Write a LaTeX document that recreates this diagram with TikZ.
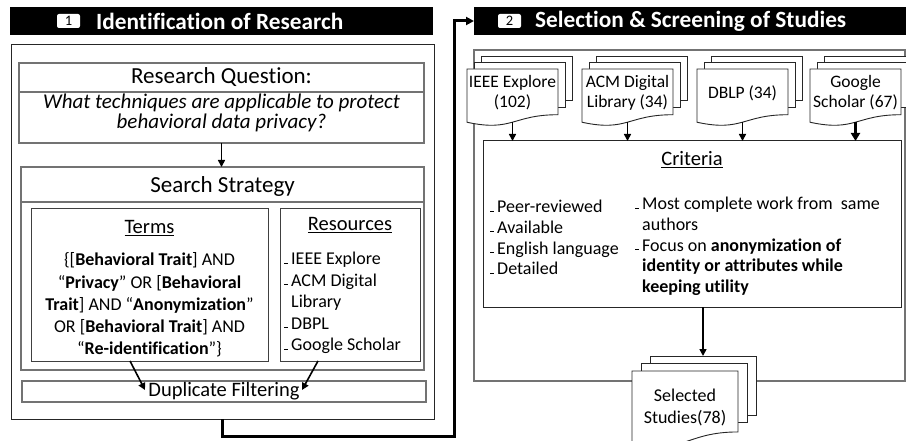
\documentclass[tikz,border=0pt]{standalone}
\usepackage{fontspec}
\setmainfont{Carlito}[Ligatures={NoCommon}]
\usetikzlibrary{arrows.meta,calc}
\newcommand\bul{\rule[1pt]{4pt}{1.1pt}\hspace{3pt}}
\newcommand\fs[2]{\fontsize{#1}{#2}\selectfont}
\newcommand\docfrac{0.42}
\tikzset{
  bx/.style={draw, inner sep=0pt, outer sep=0pt, anchor=north west},
  outerline/.style={draw=black!85, line width=1pt},
  grayline/.style={draw=black!55, line width=1.2pt},
  darkline/.style={draw=black!75, line width=1pt},
  docline/.style={draw=black!85, fill=white, line width=0.9pt},
  doctext/.style={align=center, inner sep=0pt},
  arr/.style={-{Triangle[length=7pt,width=7pt]}, line width=1.6pt},
  bigarr/.style={-{Triangle[length=8pt,width=8pt]}, line width=3pt},
  badge/.style={fill=white, rounded corners=2pt, minimum width=23pt, minimum height=14pt, inner sep=0pt, font=\fs{14.5}{14.5}},
  hdrtext/.style={text=white, inner sep=0pt, anchor=west, font=\fs{23.3}{23.3}\bfseries},
}
\newcommand\docstack[9]{%
  \foreach \i in {2,1}{
    \filldraw[docline] ({#2+\i*#6},{#3-\i*#7}) rectangle ++({#4},{0.78*#5});
  }
  \filldraw[docline] (#2,#3) -- ++(#4,0) -- ++(0,{0.802*#5})
     .. controls ({#2+0.5*#4},{#3+0.802*#5}) and ({#2+0.5*#4},{#3+1.107*#5}) .. ({#2},{#3+0.934*#5}) -- cycle;
  \node[doctext,font=#8] (#1) at ({#2+0.5*#4},{#3+\docfrac*#5}) {#9};
  \coordinate (#1b) at ({#2+0.5*#4},{#3+0.93*#5});
  \coordinate (#1t) at ({#2+2*#6+0.5*#4},{#3-2*#7});
}
\begin{document}
\begin{tikzpicture}[x=1pt,y=-1pt]
\useasboundingbox[fill=white] (0,0) rectangle (906,441);
\clip (0,0) rectangle (906,441);

% ---------- Header 1 ----------
\node[bx, draw=none, fill=black, minimum width=423pt, minimum height=28pt] (h1) at (10,7) {};
\node[badge] (b1) at (68.5,21) {1};
\node[hdrtext] (t1) at (96,21) {Identification of Research};

% ---------- Left outer box ----------
\node[bx, outerline, minimum width=423pt, minimum height=374pt] (box1) at (11,45) {};

% Research question
\node[bx, grayline, minimum width=405pt, minimum height=80pt] (rq) at (19,63) {};
\draw[grayline] ($(rq.north west)+(0,29)$) -- ($(rq.north east)+(0,29)$);
\node[font=\fs{23}{23}, inner sep=0pt] (rqtitle) at (221.5,77.5) {Research Question:};
\node[font=\fs{21}{19.5}\itshape, align=center, inner sep=0pt] (rqq) at (221.5,113) {What techniques are applicable to protect\\behavioral data privacy?};

% Search strategy
\node[bx, grayline, minimum width=403pt, minimum height=203pt] (ss) at (21,167) {};
\draw[grayline] ($(ss.north west)+(0,35)$) -- ($(ss.north east)+(0,35)$);
\node[font=\fs{23}{23}, inner sep=0pt] (sstitle) at (222.5,186) {Search Strategy};
\draw[arr] (rq.south) -- (rq.south |- ss.north);

% Terms
\node[bx, darkline, minimum width=237pt, minimum height=152pt] (terms) at (31,209) {};
\node[font=\fs{20.5}{20.5}, inner sep=0pt] (termstitle) at (149.5,228) {\underline{Terms}};
\node[font=\fs{18}{22.2}, align=center, inner sep=0pt] (termsbody) at (149.5,305) {%
\{[\textbf{Behavioral Trait}] AND\\
“\textbf{Privacy}” OR [\textbf{Behavioral}\\
\textbf{Trait}] AND “\textbf{Anonymization}”\\
OR [\textbf{Behavioral Trait}] AND\\
“\textbf{Re-identification}”\}};

% Resources
\node[bx, darkline, minimum width=140pt, minimum height=152pt] (res) at (280,209) {};
\node[font=\fs{20.5}{20.5}, inner sep=0pt] (restitle) at (350,225) {\underline{Resources}};
\node[font=\fs{18}{21.5}, align=left, inner sep=0pt, anchor=north west] (reslist) at (284,252) {%
\bul IEEE Explore\\
\bul ACM Digital\\
\phantom{\bul}Library\\
\bul DBPL\\
\bul Google Scholar};

% Duplicate filtering
\node[bx, grayline, minimum width=404pt, minimum height=21pt] (dup) at (22,381) {};
\node[font=\fs{20.5}{20.5}, inner sep=0pt] (duptext) at (224,391) {Duplicate Filtering};
\draw[arr] ($(terms.south west)+(99,0)$) -- ($(dup.north west)+(123,9)$);
\draw[arr] ($(res.south west)+(38,0)$) -- ($(dup.north west)+(280,9)$);

% ---------- Header 2 ----------
\node[bx, draw=none, fill=black, minimum width=432pt, minimum height=28pt] (h2) at (474,7) {};
\node[badge] (b2) at (509.5,21) {2};
\node[hdrtext] (t2) at (535,21) {Selection \& Screening of Studies};

% connector between the stages
\coordinate (turn) at (454,436);
\draw[bigarr] (box1.south) |- (turn) |- (h2.west);

% ---------- Right outer box ----------
\node[bx, grayline, minimum width=431pt, minimum height=331pt] (box2) at (474,50) {};

\docstack{ieee}{467}{69}{91}{57}{7.3}{6.5}{\fs{17.5}{20}}{IEEE Explore\\(102)}
\docstack{acm}{582}{69}{91}{57}{7.3}{6.5}{\fs{17.5}{20}}{ACM Digital\\Library (34)}
\docstack{dblp}{697}{69}{91}{57}{7.3}{6.5}{\fs{17.5}{20}}{DBLP (34)}
\docstack{goog}{810}{69}{91}{57}{7.3}{6.5}{\fs{17.5}{20}}{Google\\Scholar (67)}

% Criteria
\node[bx, draw=black!85, line width=1pt, minimum width=418pt, minimum height=166pt] (crit) at (483,141) {};
\node[font=\fs{20.5}{20.5}, inner sep=0pt] (crittitle) at (692,160) {\underline{Criteria}};
\node[font=\fs{18}{20.7}, align=left, inner sep=0pt, anchor=north west] (critleft) at (490,200) {%
\bul Peer-reviewed\\
\bul Available\\
\bul English language\\
\bul Detailed};
\node[font=\fs{18}{20.7}, align=left, inner sep=0pt, anchor=north west] (critright) at (635,197) {%
\bul Most complete work from\ \ same\\
\phantom{\bul}authors\\
\bul Focus on \textbf{anonymization of}\\
\phantom{\bul}\textbf{identity or attributes while}\\
\phantom{\bul}\textbf{keeping utility}};

\foreach \n in {ieee,acm,dblp}{
  \draw[arr] (\n b) -- (\n b |- crit.north);
}
\draw[arr, line width=3pt, -{Triangle[length=8pt,width=9pt]}] (googb) -- (googb |- crit.north);

% Selected studies
\renewcommand\docfrac{0.48}
\docstack{sel}{632}{371}{106}{76}{9}{7.5}{\fs{18}{22}}{Selected\\Studies(78)}
\draw[arr] (crit.south -| selt) -- (selt);
\end{tikzpicture}
\end{document}
